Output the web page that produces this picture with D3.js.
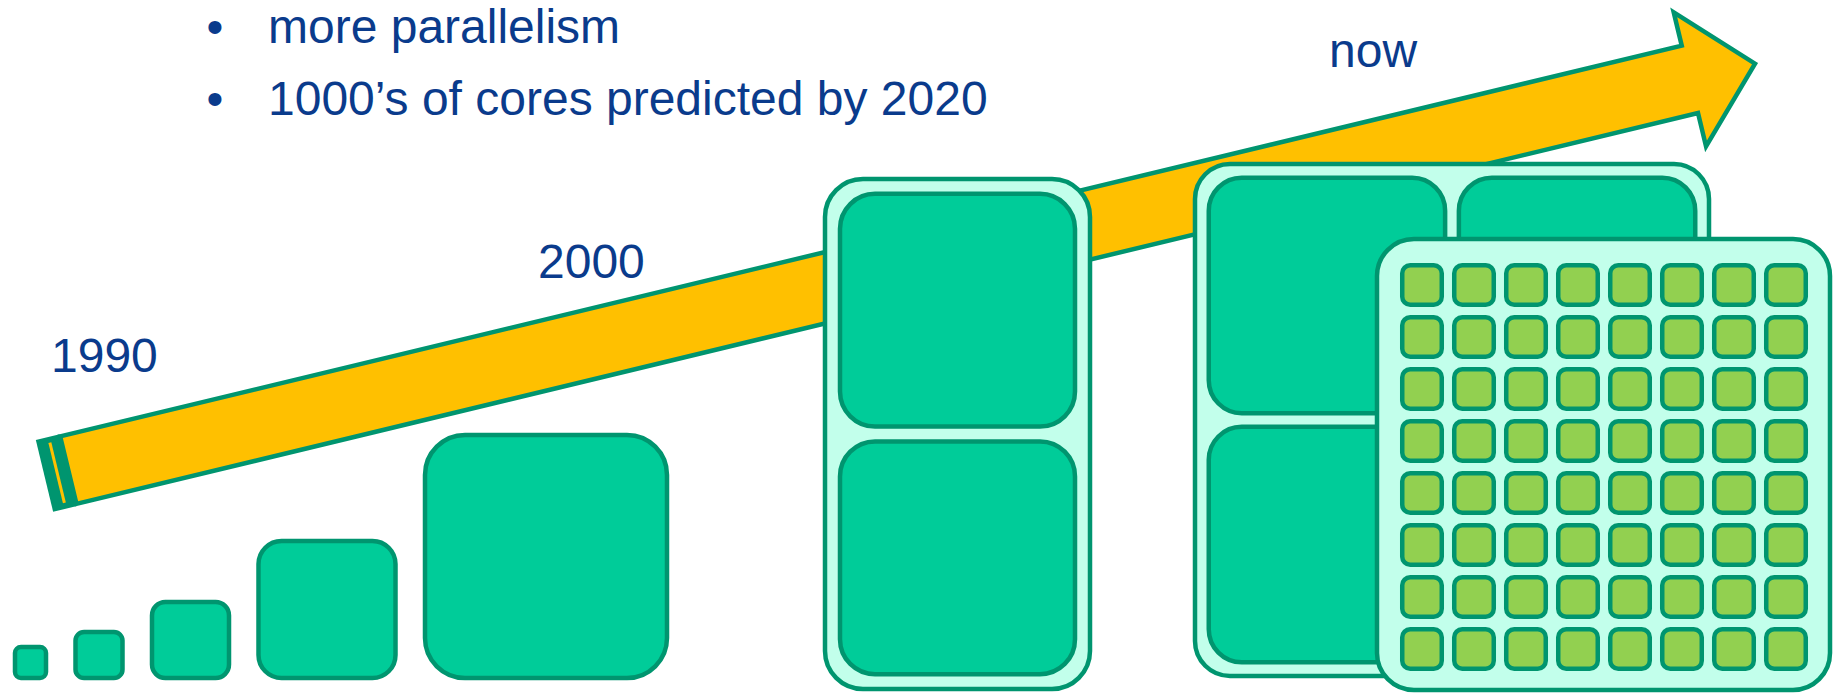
<!DOCTYPE html>
<html>
<head>
<meta charset="utf-8">
<script src="https://cdn.jsdelivr.net/npm/d3@7"></script>
<style>
  html, body { margin: 0; padding: 0; background: #ffffff; }
  svg { display: block; }
  text { font-family: "Liberation Sans", Arial, sans-serif; }
</style>
</head>
<body>
<svg id="chart" width="1833" height="693"></svg>
<script>
// ---- content ----
const bulletLines = ["more parallelism", "1000\u2019s of cores predicted by 2020"];
const eraLabels = ["1990", "2000", "now"];

// single-core era: die edge lengths, growing over time
const coreWidth  = [31, 47, 77, 137, 242];
const coreHeight = [31, 46, 76, 137, 243];

// multi-core era: cores per chip
const dualCores = 2;      // stacked vertically
const quadCores = 4;      // 2 x 2
const manyCoreSide = 8;   // 8 x 8 grid = 64 cores

// ---- styling ----
const C = {
  stroke: "#00956f",
  core: "#00cc99",
  chip: "#c2ffeb",
  small: "#92d050",
  arrow: "#ffc000",
  text: "#0a3b8c"
};
const SW = 4.5;

const svg = d3.select("#chart");
const px = d3.scaleLinear().domain([0, 1]).range([0, 1]); // layout units -> pixels

function roundRect(g, x, y, w, h, r, fill, sw) {
  return g.append("rect")
    .attr("x", px(x)).attr("y", px(y))
    .attr("width", px(w)).attr("height", px(h))
    .attr("rx", r).attr("ry", r)
    .attr("fill", fill)
    .attr("stroke", C.stroke)
    .attr("stroke-width", sw || SW);
}

// ---- time arrow (drawn first; chips sit on top of it) ----
const arrowLen = 1760, shaftHalf = 34.7, headHalf = 69, headStart = 1693, tailBand = 25;
const arrow = svg.append("g")
  .attr("transform", "translate(44,476) rotate(-13.55)");

arrow.append("rect")
  .attr("x", 0.5).attr("y", -shaftHalf - SW / 2)
  .attr("width", tailBand - 0.5).attr("height", 2 * shaftHalf + SW)
  .attr("fill", C.stroke);
arrow.append("rect")
  .attr("x", 12).attr("y", -31).attr("width", 3).attr("height", 62)
  .attr("fill", C.arrow);

const ap = d3.path();
ap.moveTo(tailBand, -shaftHalf);
ap.lineTo(headStart, -shaftHalf);
ap.lineTo(headStart, -headHalf);
ap.lineTo(arrowLen, 0);
ap.lineTo(headStart, headHalf);
ap.lineTo(headStart, shaftHalf);
ap.lineTo(tailBand, shaftHalf);
ap.closePath();
arrow.append("path")
  .attr("d", ap.toString())
  .attr("fill", C.arrow)
  .attr("stroke", C.stroke)
  .attr("stroke-width", SW)
  .attr("stroke-linejoin", "miter");

// ---- single cores, growing, sitting on a common floor ----
const floorY = 678, startX = 15, gap = 29.5;
const radii = d3.scaleLinear().domain([31, 242]).range([6, 40]);
const singles = svg.append("g");
let cx = startX;
coreWidth.forEach((w, i) => {
  const h = coreHeight[i];
  roundRect(singles, cx, floorY - h, w, h, radii(w), C.core);
  cx += w + gap;
});

// ---- dual-core chip ----
const dual = svg.append("g");
roundRect(dual, 825, 179, 265, 510, 38, C.chip);
const dualY = d3.scaleBand().domain(d3.range(dualCores)).range([179, 689]).paddingInner(0.06).paddingOuter(0.06);
d3.range(dualCores).forEach(i => {
  roundRect(dual, 840, dualY(i), 235, dualY.bandwidth(), 35, C.core);
});

// ---- quad-core chip ----
const quad = svg.append("g");
roundRect(quad, 1195, 164, 514, 512, 35, C.chip);
const quadX = d3.scaleBand().domain([0, 1]).range([1195, 1709]).paddingInner(0.055).paddingOuter(0.055);
const quadY = d3.scaleBand().domain([0, 1]).range([164, 676]).paddingInner(0.055).paddingOuter(0.055);
d3.range(quadCores).forEach(i => {
  const c = i % 2, r = Math.floor(i / 2);
  roundRect(quad, quadX(c), quadY(r), quadX.bandwidth(), quadY.bandwidth(), 33, C.core);
});

// ---- many-core chip (8 x 8) ----
const many = svg.append("g");
roundRect(many, 1377, 239, 453, 451, 37, C.chip);
const gx = d3.scaleBand().domain(d3.range(manyCoreSide)).range([1396, 1812]).paddingInner(0.24).paddingOuter(0.12);
const gy = d3.scaleBand().domain(d3.range(manyCoreSide)).range([259, 675]).paddingInner(0.24).paddingOuter(0.12);
const cells = d3.cross(d3.range(manyCoreSide), d3.range(manyCoreSide));
many.selectAll("rect.cell").data(cells).join("rect")
  .attr("class", "cell")
  .attr("x", d => gx(d[0])).attr("y", d => gy(d[1]))
  .attr("width", gx.bandwidth()).attr("height", gy.bandwidth())
  .attr("rx", 8).attr("ry", 8)
  .attr("fill", C.small)
  .attr("stroke", C.stroke)
  .attr("stroke-width", SW);

// ---- text ----
const fs = 48;
const txt = svg.append("g").attr("fill", C.text).style("font-size", fs + "px");
const lineY = [43, 115];
bulletLines.forEach((s, i) => {
  txt.append("text").attr("x", 215).attr("y", lineY[i]).attr("text-anchor", "middle").text("\u2022");
  txt.append("text").attr("x", 268).attr("y", lineY[i]).text(s);
});
const eraPos = [[51, 372], [538, 278], [1329, 67]];
eraLabels.forEach((s, i) => {
  txt.append("text").attr("x", eraPos[i][0]).attr("y", eraPos[i][1]).text(s);
});
</script>
</body>
</html>
